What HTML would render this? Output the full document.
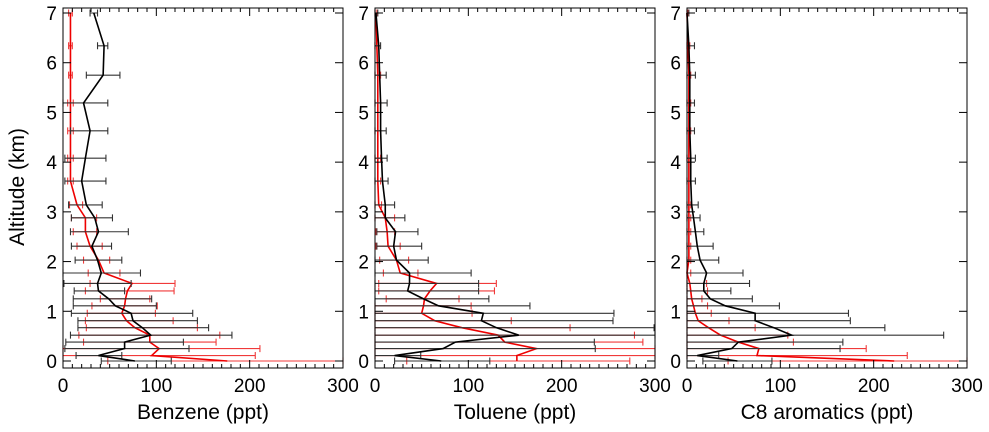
<!DOCTYPE html>
<html><head><meta charset="utf-8"><style>
body{margin:0;background:#fff;}
svg{display:block;font-family:"Liberation Sans",sans-serif;}
</style></head><body>
<svg id="chart" width="989" height="432"></svg>
<script>
const levels=[0,0.11,0.25,0.38,0.52,0.67,0.81,0.96,1.11,1.25,1.41,1.56,1.77,2.03,2.31,2.6,2.88,3.14,3.62,4.08,4.63,5.19,5.75,6.34,7.0];
const yTicks=[0,1,2,3,4,5,6,7];
const xTicks=[0,100,200,300];
const panelNames=["Benzene (ppt)","Toluene (ppt)","C8 aromatics (ppt)"];
const benzBlackMean=[77,38,66,66,94,85,75,73,56,49,38,37,41,37,31,38,34,25,20,24,29,22,43,44,33];
const benzBlackLo=[41,14,2,3,8,16,16,9,11,11,12,1,0,13,9,8,9,6,2,2,8,0,25,37,29];
const benzBlackHi=[116,63,135,129,181,156,144,139,100,95,66,73,83,63,52,70,53,42,46,46,48,48,61,48,37];
const benzRedMean=[176,95,103,93,93,77,68,63,66,67,69,74,44,38,29,24,24,15,8,8,8,8,8,8,8];
const benzRedLo=[48,0,0,22,17,25,24,26,31,40,24,29,27,22,15,11,9,7,5,5,5,5,6,6,6];
const benzRedHi=[300,206,211,164,168,144,118,99,101,93,119,120,61,50,42,36,36,21,11,11,11,11,10,10,10];
const tolBlackMean=[71,21,73,86,154,130,114,116,68,52,35,37,37,23,20,22,11,11,8,7,6,6,5,4,1];
const tolBlackLo=[21,0,0,0,0,0,0,0,0,0,0,0,0,0,2,2,0,0,0,0,0,0,0,0,0];
const tolBlackHi=[123,49,236,235,300,299,255,256,166,122,111,111,103,57,50,46,32,21,14,13,12,13,12,6,3];
const tolRedMean=[152,152,173,139,132,93,64,50,52,53,59,66,27,23,14,13,11,4,3,3,3,3,3,2,1];
const tolRedLo=[34,0,0,0,0,0,0,0,0,12,4,4,9,5,1,1,0,0,0,0,0,0,0,0,0];
const tolRedHi=[273,300,300,287,278,209,146,104,103,90,128,130,46,36,27,21,21,7,6,6,6,6,6,4,2];
const c8BlackMean=[54,11,48,55,112,93,73,73,41,25,18,18,21,14,11,9,7,5,4,4,3,3,3,2,0];
const c8BlackLo=[17,0,0,0,0,0,0,0,0,0,0,0,0,0,0,0,0,0,0,0,0,0,0,0,0];
const c8BlackHi=[91,34,164,167,275,212,175,173,99,70,47,67,60,34,28,18,14,12,9,9,8,8,9,8,2];
const c8RedMean=[222,75,77,55,36,23,12,9,7,5,4,3,0,2,2,2,2,2,2,2,2,2,2,1,0];
const c8RedLo=[44,0,0,0,0,0,0,0,0,0,0,0,0,0,0,0,0,0,0,0,0,0,0,0,0];
const c8RedHi=[300,236,192,114,108,73,45,26,22,16,22,21,4,4,4,4,4,4,4,4,4,4,4,3,1];

const NS="http://www.w3.org/2000/svg";
const svg=document.getElementById('chart');
function mk(tag,attrs,parent){const e=document.createElementNS(NS,tag);for(const k in attrs)e.setAttribute(k,attrs[k]);(parent||svg).appendChild(e);return e;}
const yBase=361,yTop7=13,plotTop=8,plotBottom=368;
function yS(a){return yBase+(yTop7-yBase)*a/7;}
const panels=[
 {x0:63,series:[[benzBlackMean,benzBlackLo,benzBlackHi],[benzRedMean,benzRedLo,benzRedHi]]},
 {x0:375,series:[[tolBlackMean,tolBlackLo,tolBlackHi],[tolRedMean,tolRedLo,tolRedHi]]},
 {x0:687,series:[[c8BlackMean,c8BlackLo,c8BlackHi],[c8RedMean,c8RedLo,c8RedHi]]}
];
const W=280;
panels.forEach((p,pi)=>{
 const g=mk('g',{});
 
 
 const xS=v=>p.x0+W*v/300;
 const colors=[["#000","#333"],["#e00","#f03a3a"]];
 [1,0].forEach(si=>{
  const [m,lo,hi]=p.series[si];
  const sg=mk('g',{},g);
  
  
  levels.forEach((a,i)=>{
   const y=yS(a),xl=xS(Math.max(0,lo[i])),xh=xS(Math.min(300,hi[i]));
   const eb=mk('path',{d:`M${xl},${y}H${xh}M${xl},${y-3.5}V${y+3.5}M${xh},${y-3.5}V${y+3.5}`,stroke:colors[si][1],'stroke-width':1.1,fill:'none'},sg);
   
   
  });
  const ln=mk('polyline',{points:levels.map((a,i)=>xS(m[i])+','+yS(a)).join(' '),stroke:colors[si][0],'stroke-width':1.6,fill:'none'},sg);
  
  
 });
 const fr=mk('rect',{x:p.x0,y:plotTop,width:W,height:plotBottom-plotTop,fill:'none',stroke:'#000','stroke-width':1},g);
 
 
 for(let v=0;v<=300;v+=10){
  const x=xS(v),len=(v%100===0)?8:4;
  mk('line',{x1:x,x2:x,y1:plotBottom,y2:plotBottom-len,stroke:'#000','stroke-width':1},g);
  mk('line',{x1:x,x2:x,y1:plotTop,y2:plotTop+len,stroke:'#000','stroke-width':1},g);
 }
 xTicks.forEach(v=>{
  const t=mk('text',{x:xS(v),y:392,'text-anchor':'middle','font-size':19},g);
  t.textContent=v;
  
  
 });
 yTicks.forEach(v=>{
  const y=yS(v);
  mk('line',{x1:p.x0,x2:p.x0+8,y1:y,y2:y,stroke:'#000','stroke-width':1},g);
  mk('line',{x1:p.x0+W,x2:p.x0+W-8,y1:y,y2:y,stroke:'#000','stroke-width':1},g);
  const t=mk('text',{x:p.x0-6,y:y+7,'text-anchor':'end','font-size':19},g);
  t.textContent=v;
  
  
 });
 const xt=mk('text',{x:p.x0+W/2,y:419,'text-anchor':'middle','font-size':21},g);
 xt.textContent=panelNames[pi];
 
 
});
const yt=mk('text',{x:0,y:0,transform:'translate(24,187) rotate(-90)','text-anchor':'middle','font-size':21});
yt.textContent='Altitude (km)';


</script>
</body></html>
